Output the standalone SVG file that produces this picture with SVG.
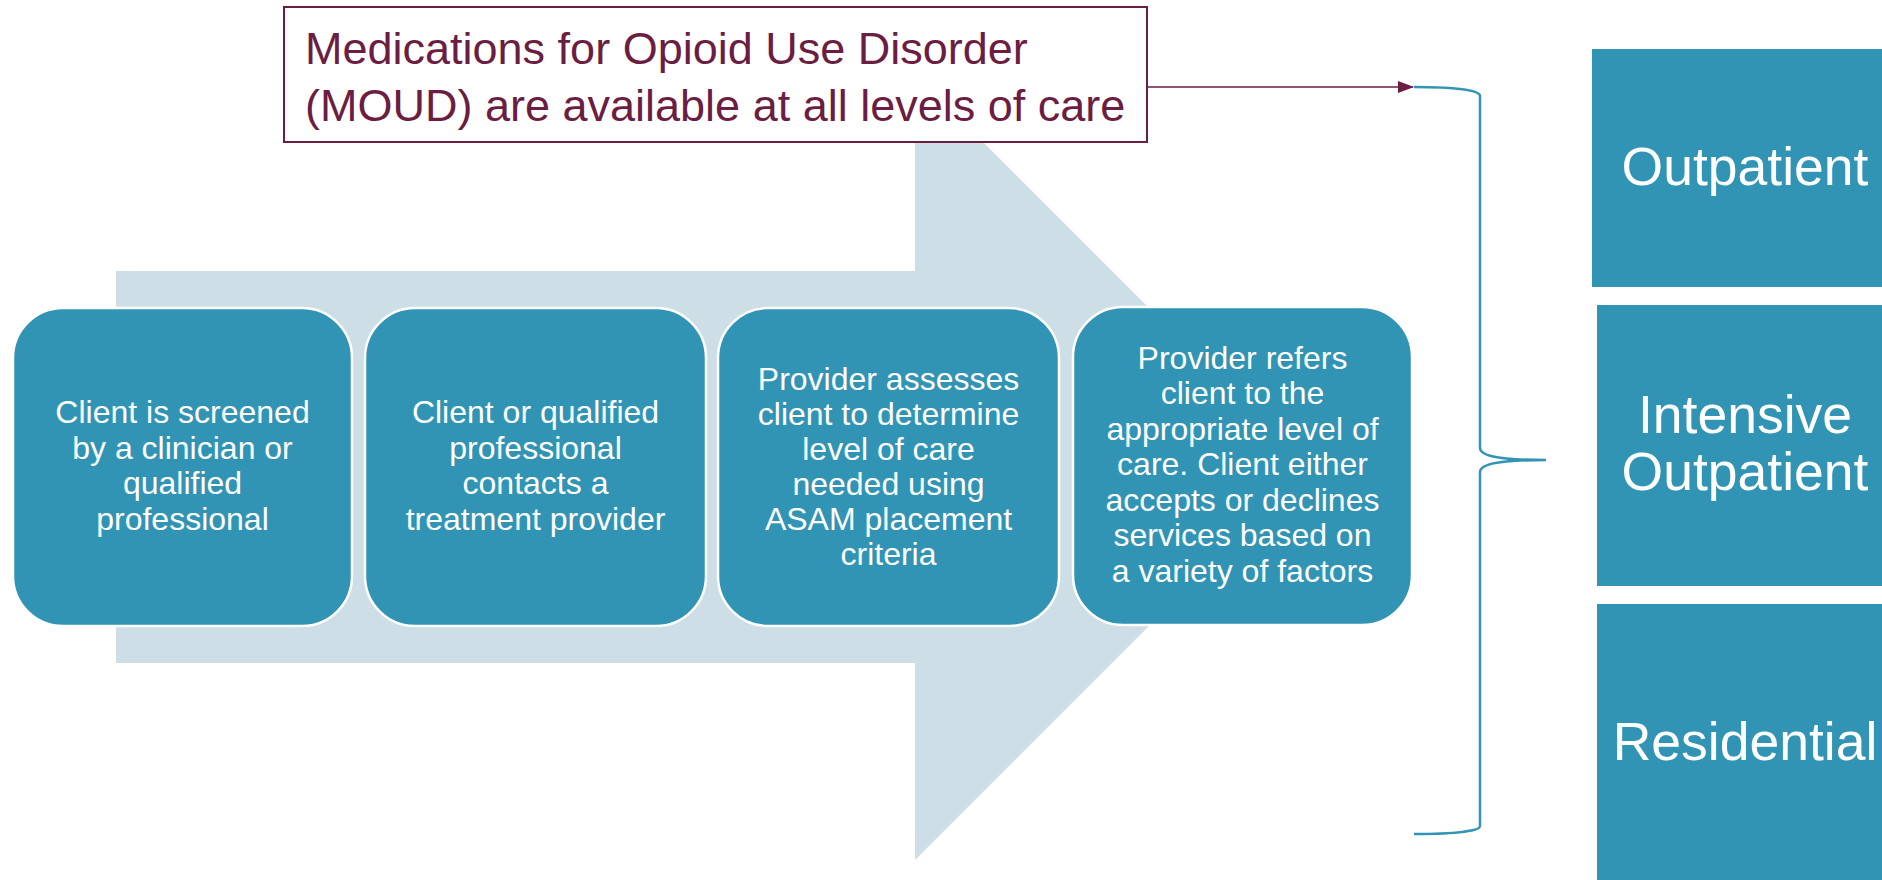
<svg xmlns="http://www.w3.org/2000/svg" width="1882" height="880" viewBox="0 0 1882 880">
<style>
.step rect{fill:#3194b4;stroke:#ffffff;stroke-width:2.5}
.step text{font-family:"Liberation Sans",Arial,sans-serif;font-size:32px;fill:#ffffff;text-anchor:middle}
.level rect{fill:#3194b4}
.level text{font-family:"Liberation Sans",Arial,sans-serif;font-size:53.5px;fill:#ffffff;text-anchor:middle}
.note text{font-family:"Liberation Sans",Arial,sans-serif;font-size:45px;fill:#6b1d42}
</style>
<defs>
<marker id="ah" markerWidth="16" markerHeight="12" refX="15" refY="6" orient="auto" markerUnits="userSpaceOnUse">
<path d="M0,0 L16,6 L0,12 Z" fill="#6b1d42"/>
</marker>
</defs>
<rect width="1882" height="880" fill="#ffffff"/>
<g id="bg-arrow">
<path d="M116,271 L915,271 L915,74 L1308,467 L915,860 L915,663 L116,663 Z" fill="#cddee6"/>
</g>
<g id="moud" class="note">
<rect x="284" y="7" width="863" height="135" fill="#ffffff" stroke="#6b1d42" stroke-width="2"/>
<text x="305" y="64">Medications for Opioid Use Disorder</text>
<text x="305" y="121">(MOUD) are available at all levels of care</text>
</g>
<g id="step1" class="step">
<rect x="13" y="308" width="339" height="318" rx="50" ry="50"/>
<text x="182.5" y="423">Client is screened</text>
<text x="182.5" y="459">by a clinician or</text>
<text x="182.5" y="494">qualified</text>
<text x="182.5" y="530">professional</text>
</g>
<g id="step2" class="step">
<rect x="365" y="308" width="341" height="318" rx="50" ry="50"/>
<text x="535.5" y="423">Client or qualified</text>
<text x="535.5" y="459">professional</text>
<text x="535.5" y="494">contacts a</text>
<text x="535.5" y="530">treatment provider</text>
</g>
<g id="step3" class="step">
<rect x="718" y="308" width="341" height="318" rx="50" ry="50"/>
<text x="888.5" y="390">Provider assesses</text>
<text x="888.5" y="425">client to determine</text>
<text x="888.5" y="460">level of care</text>
<text x="888.5" y="495">needed using</text>
<text x="888.5" y="530">ASAM placement</text>
<text x="888.5" y="565">criteria</text>
</g>
<g id="step4" class="step">
<rect x="1073" y="307" width="339" height="318" rx="50" ry="50"/>
<text x="1242.5" y="369">Provider refers</text>
<text x="1242.5" y="404">client to the</text>
<text x="1242.5" y="440">appropriate level of</text>
<text x="1242.5" y="475">care. Client either</text>
<text x="1242.5" y="511">accepts or declines</text>
<text x="1242.5" y="546">services based on</text>
<text x="1242.5" y="582">a variety of factors</text>
</g>
<g id="outpatient" class="level">
<rect x="1592" y="49" width="290" height="238"/>
<text x="1745" y="185">Outpatient</text>
</g>
<g id="intensive" class="level">
<rect x="1597" y="305" width="285" height="281"/>
<text x="1745" y="433">Intensive</text>
<text x="1745" y="490">Outpatient</text>
</g>
<g id="residential" class="level">
<rect x="1597" y="604" width="285" height="290"/>
<text x="1745" y="760">Residential</text>
</g>
<g id="connectors">
<line x1="1147" y1="87" x2="1413" y2="87" stroke="#6b1d42" stroke-width="1.5" marker-end="url(#ah)"/>
<path d="M1414,87 C1455,87 1480,90 1480,96 L1480,448 C1480,456 1500,460 1546,460 C1500,460 1480,464 1480,472 L1480,826 C1480,831 1455,834 1414,834" fill="none" stroke="#3194b4" stroke-width="2.5"/>
</g>
</svg>
